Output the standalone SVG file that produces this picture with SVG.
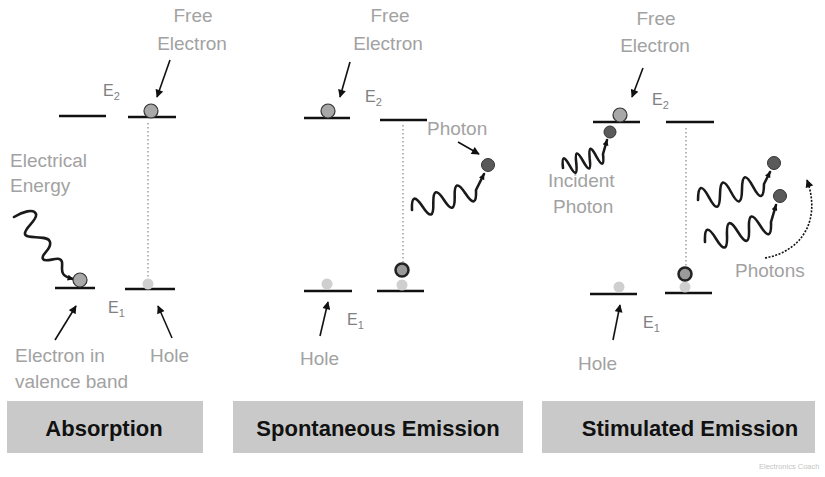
<svg xmlns="http://www.w3.org/2000/svg" width="825" height="477" viewBox="0 0 825 477">
<defs>
<marker id="ah" viewBox="0 0 10 10" refX="9" refY="5" markerWidth="9" markerHeight="8" orient="auto" markerUnits="userSpaceOnUse"><path d="M0,0 L10,5 L0,10 z" fill="#111"/></marker>
<marker id="ahs" viewBox="0 0 10 10" refX="9" refY="5" markerWidth="7" markerHeight="6" orient="auto" markerUnits="userSpaceOnUse"><path d="M0,0 L10,5 L0,10 z" fill="#111"/></marker>
</defs>
<style>
.lbl{font-family:"Liberation Sans",Arial,sans-serif;font-size:19px;fill:#a2a2a2}
.mid{text-anchor:middle}
.e{font-family:"Liberation Sans",Arial,sans-serif;font-size:16px;fill:#808080}
.sub{font-size:11px}
.lvl{stroke:#111;stroke-width:2.5}
.dot{stroke:#888;stroke-width:1.2;stroke-dasharray:1.5 2.5;fill:none}
.ptr{stroke:#111;stroke-width:1.6;fill:none;marker-end:url(#ah)}
.wave{stroke:#1a1a1a;stroke-width:2.6;fill:none;stroke-linejoin:round;stroke-linecap:round;marker-end:url(#ahs)}
.el{fill:#a8a8a8;stroke:#333;stroke-width:1.2}
.hole{fill:#cfcfcf}
.ring{fill:#9a9a9a;stroke:#222;stroke-width:2.5}
.ph{fill:#5a5a5a;stroke:#333;stroke-width:1}
.bar{fill:#c9c9c9}
.bt{font-family:"Liberation Sans",Arial,sans-serif;font-weight:bold;font-size:22px;fill:#111;text-anchor:middle}
.wm{font-family:"Liberation Sans",Arial,sans-serif;font-size:7.5px;fill:#c4c4c4}
</style>
<rect width="825" height="477" fill="#fff"/>

<!-- Panel 1: Absorption -->
<g id="abs-free-electron-label"><text class="lbl mid" x="193" y="22">Free</text><text class="lbl mid" x="192" y="50">Electron</text></g>
<g id="abs-E2"><text class="e" x="103" y="96">E<tspan class="sub" dy="4">2</tspan></text></g>
<g id="abs-upper-left-level"><line class="lvl" x1="59" y1="116" x2="106" y2="116"/></g>
<g id="abs-upper-right-level"><line class="lvl" x1="128" y1="117" x2="176" y2="117"/></g>
<g id="abs-free-electron"><circle class="el" cx="151" cy="111" r="7"/></g>
<g id="abs-electrical-energy-label"><text class="lbl" x="10" y="167">Electrical</text><text class="lbl" x="10" y="192">Energy</text></g>
<g id="abs-photon"><path class="wave" d="M14,217 C22,212 34,208 36,214 C38,220 24,228 25,234 C26,240 48,234 50,242 C52,250 40,254 43,259 C46,264 60,254 62,262 C63,270 58,275 73,279"/></g>
<g id="abs-lower-left-level"><line class="lvl" x1="55" y1="288" x2="95" y2="288"/></g>
<g id="abs-lower-right-level"><line class="lvl" x1="125" y1="289" x2="175" y2="289"/></g>
<g id="abs-valence-electron"><circle class="el" cx="80" cy="280" r="7"/></g>
<g id="abs-hole"><circle class="hole" cx="148" cy="284" r="5.5"/></g>
<g id="abs-E1"><text class="e" x="108" y="313">E<tspan class="sub" dy="4">1</tspan></text></g>
<g id="abs-electron-in-label"><text class="lbl" x="15" y="362">Electron in</text><text class="lbl" x="15" y="388">valence band</text></g>
<g id="abs-hole-label"><text class="lbl" x="150" y="362">Hole</text></g>
<g id="abs-title"><rect class="bar" x="7" y="401" width="196" height="52"/><text class="bt" x="104" y="436">Absorption</text></g>

<!-- Panel 2: Spontaneous Emission -->
<g id="spo-free-electron-label"><text class="lbl mid" x="390" y="22">Free</text><text class="lbl mid" x="388" y="50">Electron</text></g>
<g id="spo-E2"><text class="e" x="365" y="102">E<tspan class="sub" dy="4">2</tspan></text></g>
<g id="spo-upper-left-level"><line class="lvl" x1="304" y1="118" x2="350" y2="118"/></g>
<g id="spo-upper-right-level"><line class="lvl" x1="380" y1="120" x2="427" y2="120"/></g>
<g id="spo-free-electron"><circle class="el" cx="328" cy="111" r="7"/></g>
<g id="spo-photon-label"><text class="lbl" x="427" y="135">Photon</text></g>
<g id="spo-photon"><path class="wave" d="M412,210 Q411,189 422.7,206.7 Q434,224 433.3,203.3 Q433,183 444,200 Q455,217 454.7,196.7 Q454,176 465.3,193.3 Q477,211 476,190 L484,174"/><circle class="ph" cx="488" cy="165" r="6.5"/></g>
<g id="spo-lower-left-level"><line class="lvl" x1="304" y1="291" x2="352" y2="291"/></g>
<g id="spo-lower-right-level"><line class="lvl" x1="377" y1="291" x2="424" y2="291"/></g>
<g id="spo-hole"><circle class="hole" cx="327" cy="284" r="5.5"/></g>
<g id="spo-fallen-electron"><circle class="hole" cx="402" cy="285" r="5.5"/><circle class="ring" cx="402" cy="270" r="6.5"/></g>
<g id="spo-E1"><text class="e" x="347" y="325">E<tspan class="sub" dy="4">1</tspan></text></g>
<g id="spo-hole-label"><text class="lbl" x="300" y="365">Hole</text></g>
<g id="spo-title"><rect class="bar" x="233" y="401" width="290" height="52"/><text class="bt" x="378" y="436">Spontaneous Emission</text></g>

<!-- Panel 3: Stimulated Emission -->
<g id="sti-free-electron-label"><text class="lbl mid" x="656" y="25">Free</text><text class="lbl mid" x="655" y="52">Electron</text></g>
<g id="sti-E2"><text class="e" x="652" y="105">E<tspan class="sub" dy="4">2</tspan></text></g>
<g id="sti-upper-left-level"><line class="lvl" x1="593" y1="122" x2="640" y2="122"/></g>
<g id="sti-upper-right-level"><line class="lvl" x1="666" y1="122" x2="714" y2="122"/></g>
<g id="sti-free-electron"><circle class="el" cx="620" cy="115" r="7"/></g>
<g id="sti-incident-photon"><path class="wave" d="M563,168 Q561,150 569.7,165.7 Q578,181 576.3,163.3 Q574,145 583,161 Q592,177 589.7,158.7 Q588,140 596.3,156.3 Q605,172 603,154 L607,140"/><circle class="ph" cx="610" cy="132" r="6"/></g>
<g id="sti-incident-label"><text class="lbl" x="548" y="187">Incident</text><text class="lbl" x="553" y="213">Photon</text></g>
<g id="sti-photon-1"><path class="wave" d="M698,200 Q698.3,177.3 709,197.3 Q719.7,217.4 720,194.7 Q720.3,171.9 731,192 Q741.7,212.1 742,189.3 Q742.3,166.6 753,186.7 Q763.7,206.7 764,184 L770,172"/><circle class="ph" cx="774" cy="163" r="6.5"/></g>
<g id="sti-photon-2"><path class="wave" d="M705,242 Q704.1,219.3 716,238.7 Q727.9,258 727,235.3 Q726.1,212.7 738,232 Q749.9,251.3 749,228.7 Q748.1,206 760,225.3 Q771.9,244.7 771,222 L776,205"/><circle class="ph" cx="780" cy="196" r="6.5"/></g>
<g id="sti-photons-label"><text class="lbl" x="735" y="277">Photons</text></g>
<g id="sti-lower-left-level"><line class="lvl" x1="590" y1="294" x2="637" y2="294"/></g>
<g id="sti-lower-right-level"><line class="lvl" x1="665" y1="293" x2="712" y2="293"/></g>
<g id="sti-hole"><circle class="hole" cx="619" cy="287" r="5.5"/></g>
<g id="sti-fallen-electron"><circle class="hole" cx="685" cy="287" r="5.5"/><circle class="ring" cx="685" cy="274" r="6.5"/></g>
<g id="sti-E1"><text class="e" x="643" y="328">E<tspan class="sub" dy="4">1</tspan></text></g>
<g id="sti-hole-label"><text class="lbl" x="578" y="370">Hole</text></g>
<g id="sti-title"><rect class="bar" x="542" y="401" width="273" height="52"/><text class="bt" x="690" y="436">Stimulated Emission</text></g>

<!-- Connectors -->
<g id="connectors">
<line class="dot" x1="148" y1="123" x2="148" y2="279"/>
<line class="dot" x1="403" y1="125" x2="403" y2="262"/>
<line class="dot" x1="686" y1="128" x2="686" y2="266"/>
<line class="ptr" x1="170" y1="60" x2="157" y2="97"/>
<line class="ptr" x1="55" y1="340" x2="76" y2="306"/>
<line class="ptr" x1="172" y1="338" x2="158" y2="306"/>
<line class="ptr" x1="350" y1="62" x2="340" y2="97"/>
<line class="ptr" x1="458" y1="142" x2="479" y2="154"/>
<line class="ptr" x1="320" y1="336" x2="328" y2="302"/>
<line class="ptr" x1="643" y1="68" x2="632" y2="97"/>
<line class="ptr" x1="613" y1="340" x2="620" y2="305"/>
<path class="ptr" stroke-dasharray="2 1.5" d="M765,258 C800,252 822,222 807,180"/>
</g>

<g id="watermark"><text class="wm" x="759" y="469">Electronics Coach</text></g>
</svg>
